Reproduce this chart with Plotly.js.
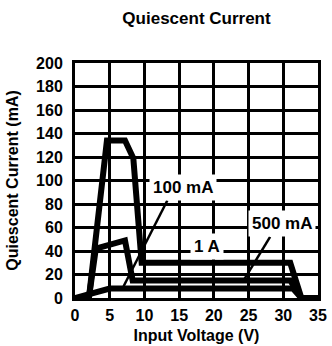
<!DOCTYPE html>
<html>
<head>
<meta charset="utf-8">
<script src="https://cdn.plot.ly/plotly-3.0.1.min.js"></script>
<style>html,body{margin:0;padding:0;background:#fff;}#chart{width:332px;height:346px;}</style>
</head>
<body>
<div id="chart"></div>
<script>
// Quiescent current vs input voltage, three load currents
var x1A = [0, 2, 4.6, 7.2, 8.4, 9.6, 31, 32.6, 35];
var y1A = [0, 0, 134, 134, 119, 30, 30, 0, 0];
var x500 = [0, 2, 3, 7.2, 8.3, 31, 32.6, 35];
var y500 = [0, 0, 42, 49, 15, 15, 0, 0];
var x100 = [0, 5, 31.4, 32.6, 35];
var y100 = [0, 8, 8, 0, 0];

var labelText = ["100 mA", "1 A", "500 mA"];
var labelX = [15.5, 19, 29.8];
var labelY = [94, 44, 63];

// leader lines: [start, end]
var lead100X = [13.3, 7.0];
var lead100Y = [83, 10];
var lead500X = [28.1, 24.4];
var lead500Y = [52, 16];

var xTicks = [0, 5, 10, 15, 20, 25, 30, 35];
var yTicks = [0, 20, 40, 60, 80, 100, 120, 140, 160, 180, 200];

var FONT = "'Liberation Sans Narrow', 'Arial Narrow', Arial, sans-serif";

function curve(x, y) {
  return {x: x, y: y, type: 'scatter', mode: 'lines',
    line: {color: '#000', width: 6, shape: 'linear'}, hoverinfo: 'skip', showlegend: false};
}
function leader(x, y) {
  return {x: x, y: y, type: 'scatter', mode: 'lines',
    line: {color: '#000', width: 2.5}, hoverinfo: 'skip', showlegend: false};
}

var data = [curve(x1A, y1A), curve(x500, y500), curve(x100, y100),
            leader(lead100X, lead100Y), leader(lead500X, lead500Y)];

var annotations = labelText.map(function (t, i) {
  return {x: labelX[i], y: labelY[i], xref: 'x', yref: 'y', text: t, showarrow: false,
    bgcolor: '#fff', borderpad: 3, font: {family: FONT, size: 17, color: '#000', weight: 'bold'}};
});

var layout = {
  width: 332, height: 346,
  margin: {l: 75, r: 14, t: 63, b: 48},
  paper_bgcolor: '#fff', plot_bgcolor: '#fff',
  showlegend: false,
  title: {text: 'Quiescent Current', x: 0.5, xref: 'paper', y: 0.948, yref: 'container', yanchor: 'middle',
    font: {family: FONT, size: 17, color: '#000', weight: 'bold'}},
  xaxis: {range: [0, 35], tickvals: xTicks, ticktext: xTicks.map(String),
    showgrid: true, gridcolor: '#000', gridwidth: 3, zeroline: false,
    showline: true, linecolor: '#000', linewidth: 3, mirror: true,
    ticks: 'outside', ticklen: 1, tickcolor: 'rgba(0,0,0,0)',
    tickfont: {family: FONT, size: 16, color: '#000', weight: 'bold'},
    title: {text: 'Input Voltage (V)', standoff: 7, font: {family: FONT, size: 16, color: '#000', weight: 'bold'}},
    fixedrange: true},
  yaxis: {range: [0, 200], tickvals: yTicks, ticktext: yTicks.map(String),
    showgrid: true, gridcolor: '#000', gridwidth: 3, zeroline: false,
    showline: true, linecolor: '#000', linewidth: 3, mirror: true,
    ticks: 'outside', ticklen: 6, tickcolor: 'rgba(0,0,0,0)',
    tickfont: {family: FONT, size: 16, color: '#000', weight: 'bold'},
    title: {text: 'Quiescent Current (mA)', standoff: 14, font: {family: FONT, size: 16, color: '#000', weight: 'bold'}},
    fixedrange: true},
  annotations: annotations
};

Plotly.newPlot('chart', data, layout, {staticPlot: true, displayModeBar: false});
</script>
</body>
</html>
